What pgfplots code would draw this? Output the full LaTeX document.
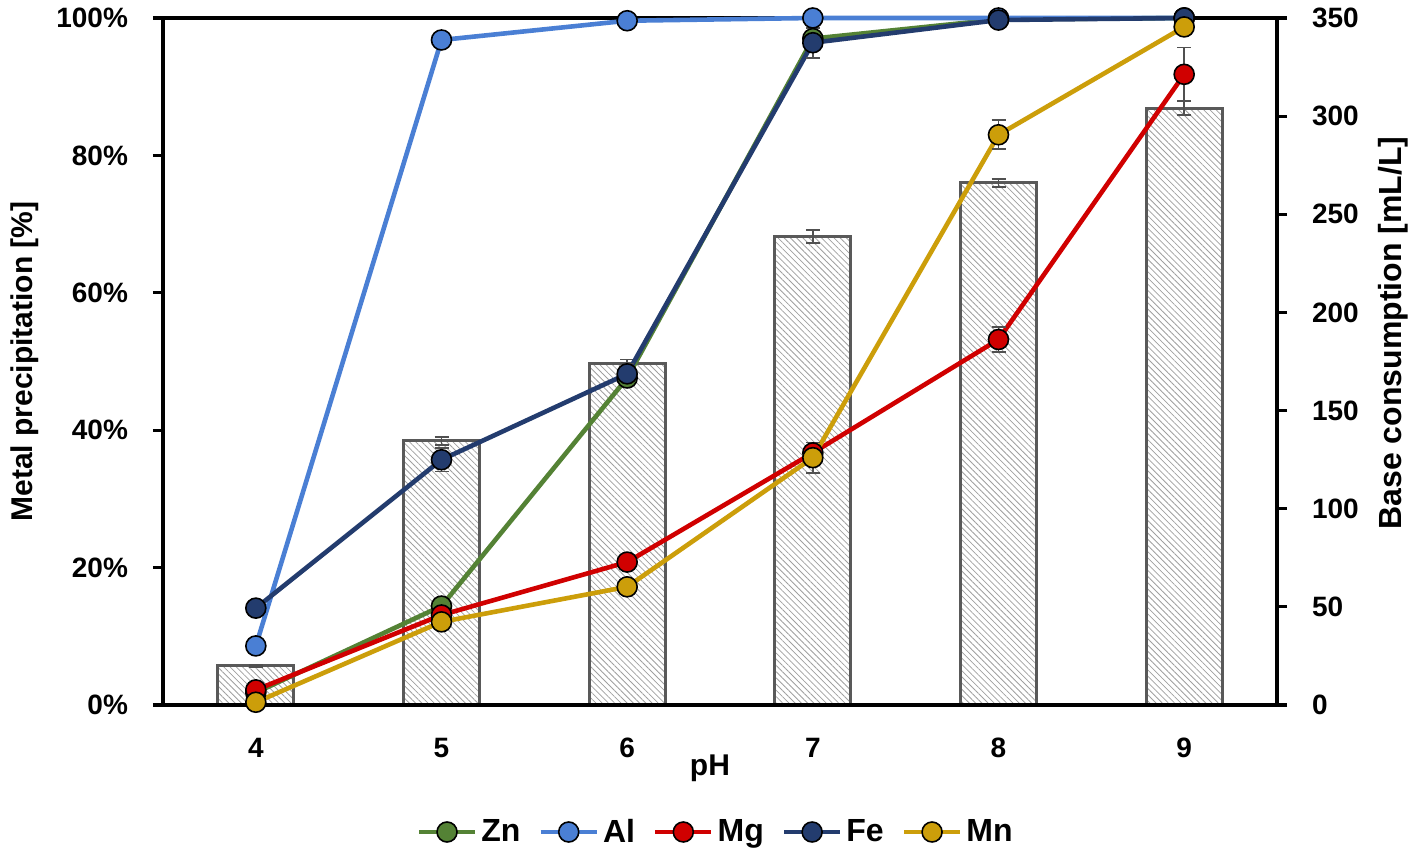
\documentclass[border=0pt]{standalone}
\usepackage{fontspec}
\setmainfont{Liberation Sans}
\usepackage{pgfplots}
\pgfplotsset{compat=1.18}
\usetikzlibrary{patterns.meta}
\definecolor{zn}{RGB}{84,130,53}
\definecolor{al}{RGB}{74,127,212}
\definecolor{mg}{RGB}{208,0,0}
\definecolor{fe}{RGB}{35,60,110}
\definecolor{mn}{RGB}{204,158,10}
\definecolor{bargray}{RGB}{89,89,89}
\definecolor{errgray}{RGB}{80,80,80}
\newcommand{\tfont}{\bfseries\fontsize{14}{16}\selectfont}
\newcommand{\lfont}{\bfseries\fontsize{15}{18}\selectfont}
\newcommand{\rfont}{\bfseries\fontsize{16}{19}\selectfont}
\pgfplotsset{
  common/.style={
    scale only axis, width=557pt, height=343.5pt,
    xmin=3.5, xmax=9.5,
    tick align=outside, major tick length=5pt,
    every tick/.style={black, line width=1.6pt},
    axis line style={line width=1.6pt},
    ticklabel style={font=\tfont},
    /pgf/number format/assume math mode=true,
  },
  lineplot/.style={color=#1, line width=2.3pt, mark=*, mark size=5pt,
    mark options={fill=#1, draw=black, line width=0.8pt},
    error bars/.cd, y dir=both, y explicit,
    error bar style={errgray, line width=0.9pt},
    error mark options={rotate=90, mark size=3.5pt, errgray, line width=0.9pt}},
}
\begin{document}
\begin{tikzpicture}
\useasboundingbox (-81.5pt,-77.5pt) rectangle (627.5pt,352.5pt);
% bars on the secondary axis
\begin{axis}[common,
  ymin=0, ymax=350, ytick={0,50,...,350},
  axis x line=none, axis y line*=right,
  yticklabel style={xshift=9pt},
  ylabel={Base consumption [mL/L]},
  ylabel style={font=\rfont, at={(axis description cs:1.104,0.5415)}, anchor=center},
]
\addplot[ybar, bar width=38pt, draw=bargray, line width=1.5pt,
  pattern={Lines[angle=-45,distance=2.2pt,line width=0.4pt]}, pattern color=gray!75,
  error bars/.cd, y dir=both, y explicit,
  error bar style={errgray, line width=0.9pt},
  error mark options={rotate=90, mark size=3.5pt, errgray, line width=0.9pt}]
  coordinates {(4,20) +- (0,0.5) (5,134.5) +- (0,2) (6,174) +- (0,2)
               (7,238.5) +- (0,3.3) (8,266) +- (0,2) (9,304) +- (0,3.6)};
\end{axis}
% metal precipitation on the primary axis
\begin{axis}[common, clip=false,
  ymin=0, ymax=100, ytick={0,20,...,100}, ytick pos=left,
  yticklabel={\pgfmathprintnumber{\tick}\%},
  yticklabel style={xshift=-9pt},
  xtick={4,...,9}, x tick style={draw=none},
  xticklabel style={yshift=-8pt},
  xlabel={pH},
  xlabel style={font=\lfont, at={(axis description cs:0.491,0)}, yshift=-31.5pt, anchor=center},
  ylabel={Metal precipitation [\%]},
  ylabel style={font=\lfont, at={(axis description cs:-0.124,0.5)}, anchor=center},
  legend style={at={(axis description cs:0.497,0)}, yshift=-63.5pt, anchor=center,
    draw=none, font=\rfont, legend columns=-1,
    /tikz/every even column/.append style={column sep=7pt}},
  legend image code/.code={\draw[mark repeat=2,mark phase=2,#1] plot coordinates {(0pt,0pt) (14pt,0pt) (28pt,0pt)};},
]
\addplot[lineplot=zn] coordinates {(4,1.8) (5,14.4) (6,47.6) (7,97) (8,99.8) (9,100)};
\addlegendentry{Zn}
\addplot[lineplot=al] coordinates {(4,8.6) (5,96.8) (6,99.6) (7,100) (8,100) (9,100)};
\addlegendentry{Al}
\addplot[lineplot=mg] coordinates {(4,2.2) +- (0,0.5) (5,13.1) +- (0,0.8) (6,20.8) +- (0,0.8)
   (7,36.7) +- (0,1.5) (8,53.2) +- (0,1.8) (9,91.8) +- (0,3.9)};
\addlegendentry{Mg}
\addplot[lineplot=fe] coordinates {(4,14.1) (5,35.7) +- (0,1.7) (6,48.2) +- (0,1.5)
   (7,96.4) +- (0,2.2) (8,99.7) (9,100)};
\addlegendentry{Fe}
\addplot[lineplot=mn] coordinates {(4,0.4) (5,12.1) (6,17.2) (7,36.0) +- (0,2.2)
   (8,83.0) +- (0,2.1) (9,98.7)};
\addlegendentry{Mn}
\end{axis}
\end{tikzpicture}
\end{document}
